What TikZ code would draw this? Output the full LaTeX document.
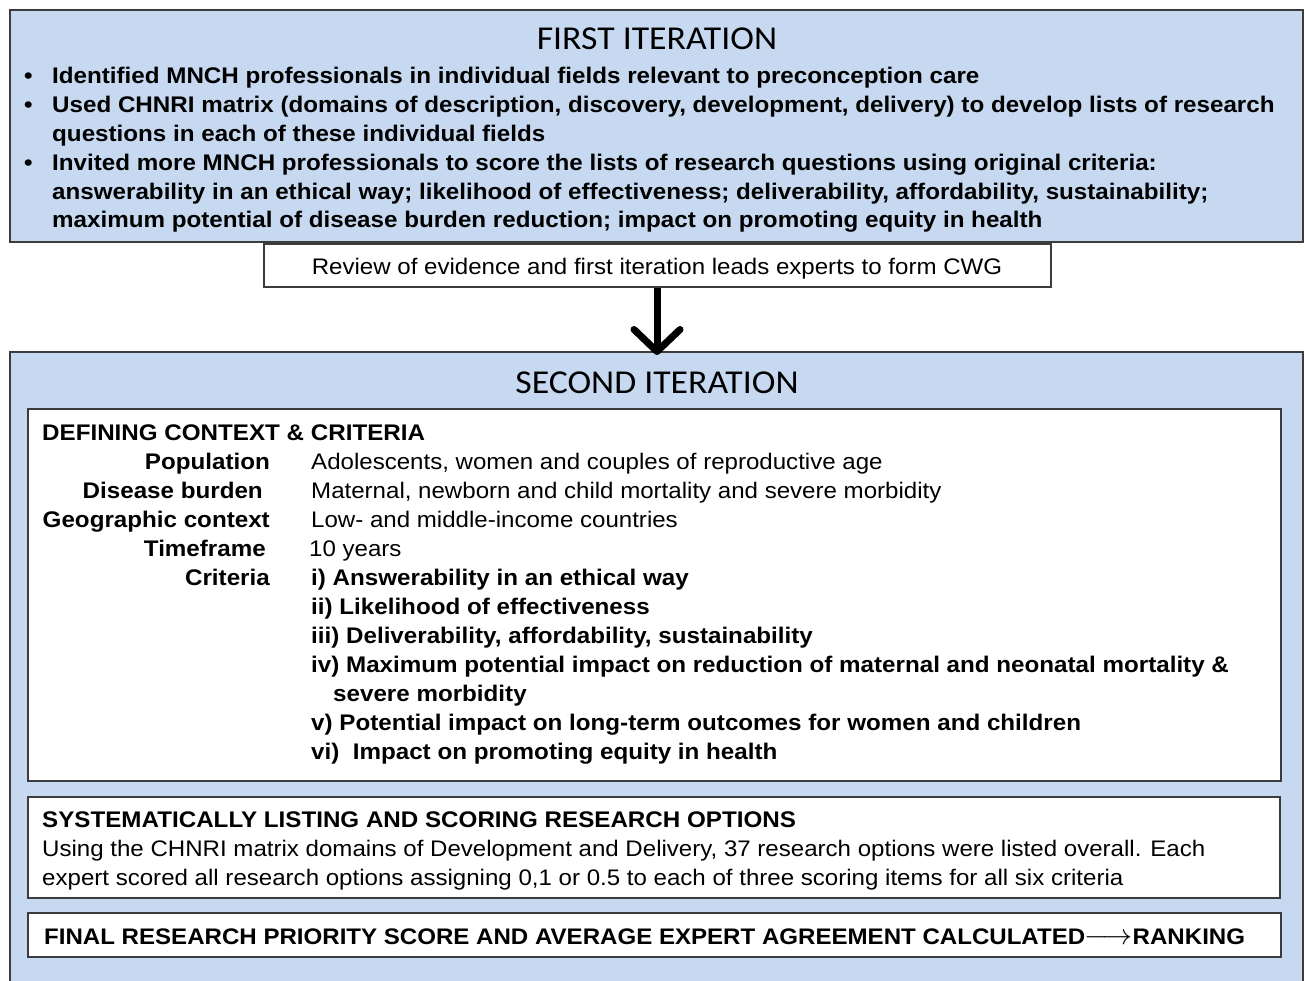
\documentclass[tikz,border=0pt]{standalone}
\usepackage{fontspec}
\setmainfont{Liberation Sans}
\newfontfamily\arialx[FakeStretch=1.07]{Liberation Sans}
\newfontfamily\calx[FakeStretch=1.07]{Carlito}
\usetikzlibrary{arrows.meta}
\definecolor{boxblue}{RGB}{198,217,241}
\definecolor{edgegray}{RGB}{60,60,60}
\begin{document}
\begin{tikzpicture}[x=1pt,y=-1pt,
  panel/.style={draw=edgegray,line width=1.6pt,fill=boxblue},
  wbox/.style={draw=edgegray,line width=1.6pt,fill=white},
  ttl/.style={font=\calx\fontsize{33.4}{38}\selectfont,inner sep=0pt,anchor=base},
  txt/.style={font=\arialx\fontsize{22.5}{29}\selectfont,inner sep=0pt,anchor=base west},
  btxt/.style={font=\arialx\bfseries\fontsize{22.6}{29}\selectfont,inner sep=0pt,anchor=base west},
  lbl/.style={font=\arialx\bfseries\fontsize{22.6}{29}\selectfont,inner sep=0pt,anchor=base east}]
\useasboundingbox (0,0) rectangle (1305,980);
\fill[white] (0,0) rectangle (1305,980);
% first iteration panel
\draw[panel] (10,10) rectangle (1303,242);
\node[ttl] (t1) at (657,49) {FIRST ITERATION};
\node[btxt] (b1) at (24,83) {•};
\node[btxt] (l1) at (52,83) {Identified MNCH professionals in individual fields relevant to preconception care};
\node[btxt] (b2) at (24,112) {•};
\node[btxt] (l2) at (52,112) {Used CHNRI matrix (domains of description, discovery, development, delivery) to develop lists of research};
\node[btxt] (l3) at (52,141) {questions in each of these individual fields};
\node[btxt] (b3) at (24,170) {•};
\node[btxt] (l4) at (52,170) {Invited more MNCH professionals to score the lists of research questions using original criteria:};
\node[btxt] (l5) at (52,199) {answerability in an ethical way; likelihood of effectiveness; deliverability, affordability, sustainability;};
\node[btxt] (l6) at (52,227) {maximum potential of disease burden reduction; impact on promoting equity in health};
% review box
\node[wbox,minimum width=787pt,minimum height=43pt,inner sep=0pt] (rev) at (657.5,265.5) {};
\node[txt,anchor=base] (revt) at (657,274) {Review of evidence and first iteration leads experts to form CWG};
% second iteration panel
\draw[panel] (10,352) rectangle (1303,995);
\coordinate (p2top) at (657,352);
\draw[line width=7pt,-{Straight Barb[length=22pt,width=46pt,line width=7pt,round]}] (rev.south -| p2top) -- ([yshift=-3pt]p2top);
\node[ttl] (t2) at (657,393) {SECOND ITERATION};
% defining context box
\draw[wbox] (28,409) rectangle (1281,781);
\node[btxt] (dc) at (42,440) {DEFINING CONTEXT \& CRITERIA};
\node[lbl] (pop) at (270,469) {Population};
\node[lbl] (dis) at (263,498) {Disease burden};
\node[lbl] (geo) at (270,527) {Geographic context};
\node[lbl] (tim) at (266,556) {Timeframe};
\node[lbl] (cri) at (270,585) {Criteria};
\node[txt] (vpop) at (311,469) {Adolescents, women and couples of reproductive age};
\node[txt] (vdis) at (311,498) {Maternal, newborn and child mortality and severe morbidity};
\node[txt] (vgeo) at (311,527) {Low- and middle-income countries};
\node[txt] (vtim) at (309,556) {10 years};
\node[btxt] (c1) at (311,585) {i) Answerability in an ethical way};
\node[btxt] (c2) at (311,614) {ii) Likelihood of effectiveness};
\node[btxt] (c3) at (311,643) {iii) Deliverability, affordability, sustainability};
\node[btxt] (c4) at (311,672) {iv) Maximum potential impact on reduction of maternal and neonatal mortality \&};
\node[btxt] (c4b) at (333,701) {severe morbidity};
\node[btxt] (c5) at (311,730) {v) Potential impact on long-term outcomes for women and children};
\node[btxt] (c6) at (311,759) {vi)\ \ Impact on promoting equity in health};
% systematically box
\draw[wbox] (28,797) rectangle (1280,898);
\node[btxt] (sh) at (42,827) {SYSTEMATICALLY LISTING AND SCORING RESEARCH OPTIONS};
\node[txt] (s1) at (42,856) {Using the CHNRI matrix domains of Development and Delivery, 37 research options were listed overall. Each};
\node[txt] (s2) at (42,885) {expert scored all research options assigning 0,1 or 0.5 to each of three scoring items for all six criteria};
% final box
\draw[wbox] (28,913) rectangle (1281,957);
\node[btxt,font=\arialx\bfseries\fontsize{22.5}{29}\selectfont] (fin) at (44,944) {FINAL RESEARCH PRIORITY SCORE AND AVERAGE EXPERT AGREEMENT CALCULATED\hspace{-1pt}\scalebox{1.45}[1.4]{$\longrightarrow$}\hspace{0pt}RANKING};
\end{tikzpicture}
\end{document}
